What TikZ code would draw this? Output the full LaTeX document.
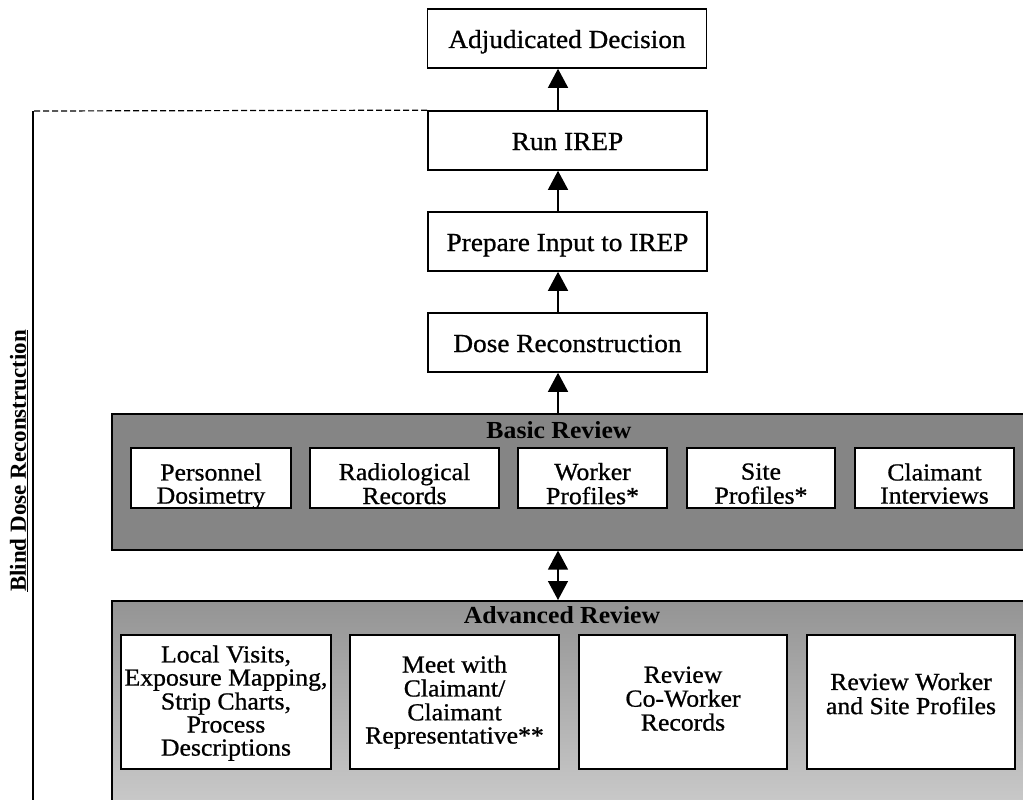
\documentclass[tikz,border=0pt]{standalone}
\usepackage{fontspec}
\setmainfont{Liberation Serif}[FakeStretch=1.05,FakeBold=0.8]
\newfontfamily\titlefont{Liberation Serif Bold}[FakeStretch=1.05]
\newfontfamily\blindfont{Liberation Serif Bold}
\usetikzlibrary{arrows.meta}
% lines set as a tabular, moved down by #1 without changing the reported size
\newcommand{\boxlines}[2]{\raisebox{#1}[\height][\depth]{\begin{tabular}{@{}c@{}}#2\end{tabular}}}
\begin{document}
\begin{tikzpicture}[x=1pt,y=-1pt,
  topbox/.style={draw, line width=1.6pt, fill=white, minimum width=279pt, minimum height=59pt, inner sep=0pt, text height=19pt, text depth=0pt, font=\fontsize{26}{26}\selectfont},
  innerbox/.style={draw, line width=2pt, fill=white, inner sep=0pt, align=center, font=\fontsize{24.5}{23}\selectfont},
  panel/.style={draw, line width=1.6pt, anchor=north west, inner sep=0pt},
  paneltitle/.style={font=\titlefont\fontsize{24.5}{24}\selectfont, inner sep=0pt},
  arr/.style={line width=1.4pt, -{Triangle[width=20pt,length=19pt]}},
  darr/.style={line width=1.4pt, {Triangle[width=20pt,length=19pt]}-{Triangle[width=20pt,length=19pt]}},
  sideline/.style={line width=1.2pt}
]
\useasboundingbox (0,0) rectangle (1023,800);
\clip (0,0) rectangle (1023,800);
\coordinate (ax) at (558,0);

% top chain
\node (adj)  [topbox] at (567,38.5)  {Adjudicated Decision};
\node (run)  [topbox] at (567.5,140.5) {Run IREP};
\node (prep) [topbox] at (567.5,241.5) {Prepare Input to IREP};
\node (dose) [topbox] at (567.5,342.5) {Dose Reconstruction};

% panels
\node (basic) [panel, fill=black!48, minimum width=930pt, minimum height=136pt] at (111,413) {};
\node (adv) [panel, top color=black!42, bottom color=black!20, minimum width=930pt, minimum height=215pt] at (111,600) {};
\node (basict) [paneltitle] at (559,430) {Basic Review};
\node (advt) [paneltitle] at (562,615) {Advanced Review};

% basic review boxes
\node (pd) [innerbox, minimum width=160pt, minimum height=60pt] at (211,478)   {\boxlines{-9pt}{Personnel\\Dosimetry}};
\node (rr) [innerbox, minimum width=189pt, minimum height=60pt] at (404.5,478) {\boxlines{-9pt}{Radiological\\Records}};
\node (wp) [innerbox, minimum width=149pt, minimum height=60pt] at (592.5,478) {\boxlines{-9pt}{Worker\\Profiles*}};
\node (sp) [innerbox, minimum width=148pt, minimum height=60pt] at (761,478)   {\boxlines{-9pt}{Site\\Profiles*}};
\node (ci) [innerbox, minimum width=159pt, minimum height=60pt] at (934.5,478) {\boxlines{-9pt}{Claimant\\Interviews}};

% advanced review boxes
\node (lv) [innerbox, minimum width=210pt, minimum height=134pt] at (226,702)   {\boxlines{-2pt}{Local Visits,\\Exposure Mapping,\\Strip Charts,\\Process\\Descriptions}};
\node (mw) [innerbox, minimum width=209pt, minimum height=134pt] at (454.5,702) {\boxlines{-1pt}{Meet with\\Claimant/\\Claimant\\Representative**}};
\node (cw) [innerbox, minimum width=208pt, minimum height=134pt] at (683,702)   {\boxlines{0pt}{Review\\Co-Worker\\Records}};
\node (rw) [innerbox, minimum width=208pt, minimum height=134pt] at (911,702)   {\boxlines{5pt}{Review Worker\\and Site Profiles}};

% arrows
\draw[arr] (run.north -| ax) -- (adj.south -| ax);
\draw[arr] (prep.north -| ax) -- (run.south -| ax);
\draw[arr] (dose.north -| ax) -- (prep.south -| ax);
\draw[arr] (basic.north -| ax) -- (dose.south -| ax);
\draw[darr] (basic.south -| ax) -- (adv.north -| ax);

% blind dose reconstruction
\coordinate (bc) at (33,111);
\coordinate (bb) at (33,805);
\draw[sideline, dash pattern=on 6pt off 3pt] (run.north west) -- (bc);
\draw[sideline] (bc) -- (bb);
\node (blind) [rotate=90, inner sep=0pt, font=\blindfont\fontsize{23}{23}\selectfont] at (19,461) {\underline{Blind Dose Reconstruction}};
\end{tikzpicture}
\end{document}
